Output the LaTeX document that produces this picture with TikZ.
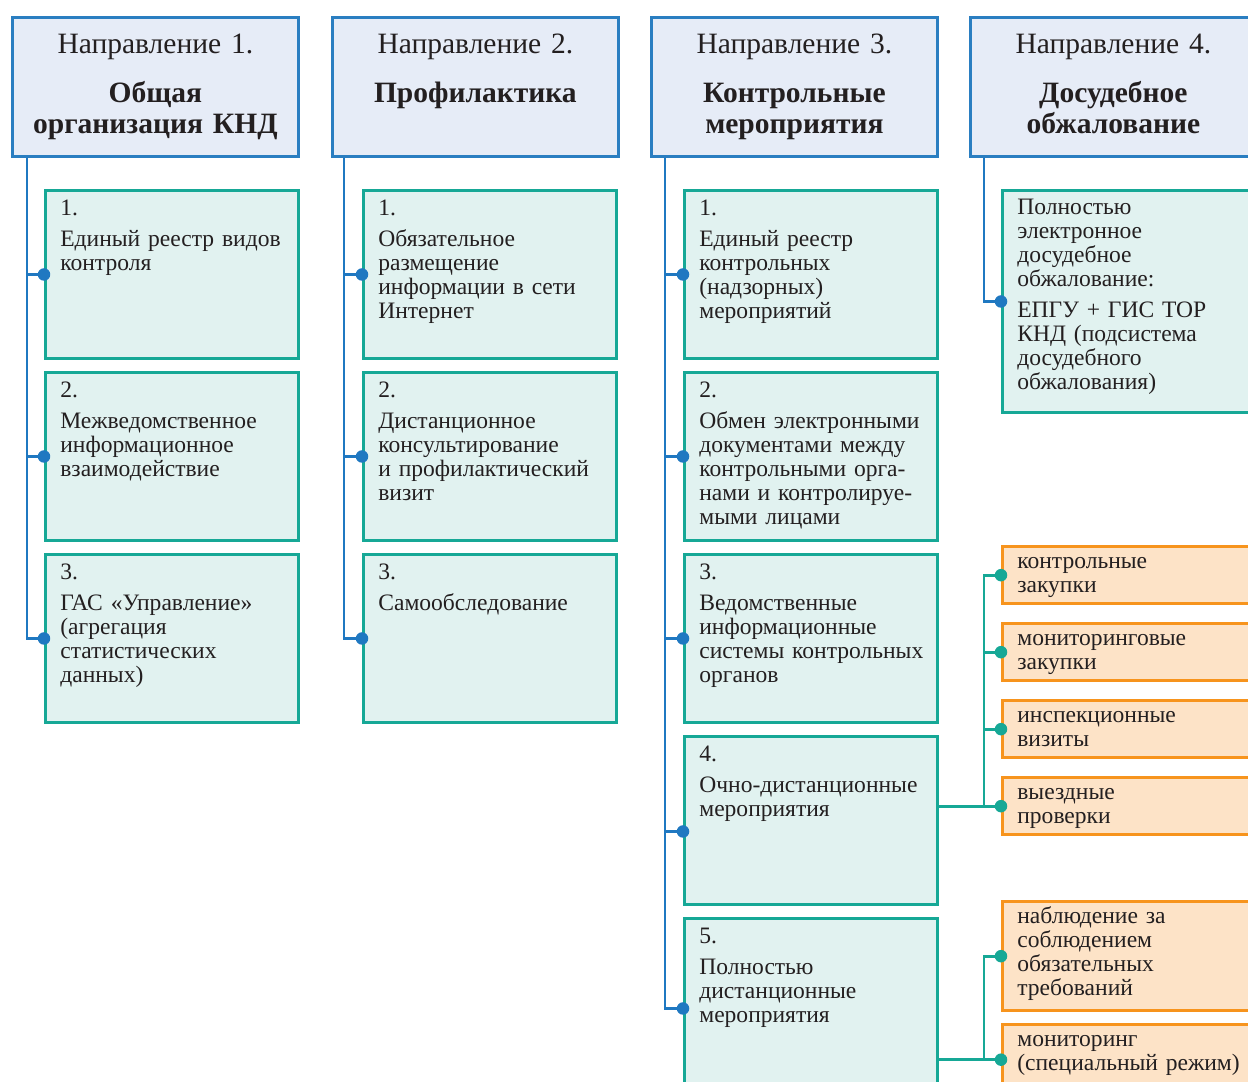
\documentclass[tikz,border=0pt]{standalone}
\usepackage{fontspec}
\setmainfont{Liberation Serif}
\usepackage{tikz}
\usetikzlibrary{positioning,calc}
\usepackage{xcolor}

\definecolor{headfill}{HTML}{E6ECF7}
\definecolor{headline}{HTML}{2A7EC1}
\definecolor{linkblue}{HTML}{1F78C1}
\definecolor{subfill}{HTML}{E1F2F0}
\definecolor{subline}{HTML}{16A896}
\definecolor{optfill}{HTML}{FDE3C7}
\definecolor{optline}{HTML}{F7941D}
\definecolor{ink}{HTML}{231F20}

\tikzset{
  headbox/.style={draw=headline, fill=headfill, line width=1.6pt, inner sep=0pt,
    minimum width=5.72cm, minimum height=2.78cm, anchor=north west},
  headtxt/.style={anchor=base, align=center, text width=5.6cm, inner sep=0pt, text=ink,
    font=\fontsize{16.8}{18.2}\selectfont},
  subbox/.style={draw=subline, fill=subfill, line width=1.7pt, inner sep=0pt,
    minimum width=5.06cm, minimum height=3.36cm, anchor=north west},
  optbox/.style={draw=optline, fill=optfill, line width=1.9pt, inner sep=0pt,
    minimum width=5.06cm, minimum height=1.14cm, anchor=north west},
  boxtxt/.style={anchor=base west, align=left, text width=5.5cm, inner sep=0pt, text=ink,
    font=\fontsize{13.4}{13.66}\selectfont},
  blink/.style={draw=linkblue, line width=1.6pt},
  tlink/.style={draw=subline, line width=1.6pt},
  bdot/.style={circle, fill=linkblue, inner sep=0pt, minimum size=0.25cm},
  tdot/.style={circle, fill=subline, inner sep=0pt, minimum size=0.25cm},
}

\begin{document}
\begin{tikzpicture}[x=0.02cm, y=-0.02cm]
    \useasboundingbox (0,0) rectangle (1248,1082);
    \clip (0,0) rectangle (1248,1082);

    % направления
    \node[headbox] (h1) at (11,16) {};
    \node[headbox] (h2) at (331,16) {};
    \node[headbox] (h3) at (650,16) {};
    \node[headbox] (h4) at (969,16) {};
    \node[headtxt] (h1t) at ([shift={(0,37)}]h1.north) {Направление 1.\\[9.7pt]\bfseries Общая\\организация КНД};
    \node[headtxt] (h2t) at ([shift={(0,37)}]h2.north) {Направление 2.\\[9.7pt]\bfseries Профилактика};
    \node[headtxt] (h3t) at ([shift={(0,37)}]h3.north) {Направление 3.\\[9.7pt]\bfseries Контрольные\\мероприятия};
    \node[headtxt] (h4t) at ([shift={(0,37)}]h4.north) {Направление 4.\\[9.7pt]\bfseries Досудебное\\обжалование};

    % блоки
    \node[subbox] (a1) at (44,189) {};
    \node[subbox] (a2) at (44,371) {};
    \node[subbox] (a3) at (44,553) {};
    \node[subbox] (b1) at (362,189) {};
    \node[subbox] (b2) at (362,371) {};
    \node[subbox] (b3) at (362,553) {};
    \node[subbox] (c1) at (683,189) {};
    \node[subbox] (c2) at (683,371) {};
    \node[subbox] (c3) at (683,553) {};
    \node[subbox] (c4) at (683,735) {};
    \node[subbox, minimum height=3.6cm] (c5) at (683,917) {};
    \node[subbox, minimum height=4.44cm] (d1) at (1001,189) {};

    \node[boxtxt] (a1t) at ([shift={(16,26)}]a1.north west) {1.\\[4.5pt]Единый реестр видов\\контроля};
    \node[boxtxt] (a2t) at ([shift={(16,26)}]a2.north west) {2.\\[4.5pt]Межведомственное\\информационное\\взаимодействие};
    \node[boxtxt] (a3t) at ([shift={(16,26)}]a3.north west) {3.\\[4.5pt]ГАС «Управление»\\(агрегация\\статистических\\данных)};
    \node[boxtxt] (b1t) at ([shift={(16,26)}]b1.north west) {1.\\[4.5pt]Обязательное\\размещение\\информации в сети\\Интернет};
    \node[boxtxt] (b2t) at ([shift={(16,26)}]b2.north west) {2.\\[4.5pt]Дистанционное\\консультирование\\и профилактический\\визит};
    \node[boxtxt] (b3t) at ([shift={(16,26)}]b3.north west) {3.\\[4.5pt]Самообследование};
    \node[boxtxt] (c1t) at ([shift={(16,26)}]c1.north west) {1.\\[4.5pt]Единый реестр\\контрольных\\(надзорных)\\мероприятий};
    \node[boxtxt] (c2t) at ([shift={(16,26)}]c2.north west) {2.\\[4.5pt]Обмен электронными\\документами между\\контрольными орга-\\нами и контролируе-\\мыми лицами};
    \node[boxtxt] (c3t) at ([shift={(16,26)}]c3.north west) {3.\\[4.5pt]Ведомственные\\информационные\\системы контрольных\\органов};
    \node[boxtxt] (c4t) at ([shift={(16,26)}]c4.north west) {4.\\[4.5pt]Очно-дистанционные\\мероприятия};
    \node[boxtxt] (c5t) at ([shift={(16,26)}]c5.north west) {5.\\[4.5pt]Полностью\\дистанционные\\мероприятия};
    \node[boxtxt] (d1t) at ([shift={(16,25)}]d1.north west) {Полностью\\электронное\\досудебное\\обжалование:\\[4.5pt]ЕПГУ + ГИС ТОР\\КНД (подсистема\\досудебного\\обжалования)};

    % формы мероприятий
    \node[optbox] (o1) at (1001,545) {};
    \node[optbox] (o2) at (1001,622) {};
    \node[optbox] (o3) at (1001,699) {};
    \node[optbox] (o4) at (1001,776) {};
    \node[optbox, minimum height=2.18cm] (o5) at (1001,900) {};
    \node[optbox, minimum height=1.4cm] (o6) at (1001,1023) {};
    \node[boxtxt] (o1t) at ([shift={(16,23)}]o1.north west) {контрольные\\закупки};
    \node[boxtxt] (o2t) at ([shift={(16,23)}]o2.north west) {мониторинговые\\закупки};
    \node[boxtxt] (o3t) at ([shift={(16,23)}]o3.north west) {инспекционные\\визиты};
    \node[boxtxt] (o4t) at ([shift={(16,23)}]o4.north west) {выездные\\проверки};
    \node[boxtxt] (o5t) at ([shift={(16,23)}]o5.north west) {наблюдение за\\соблюдением\\обязательных\\требований};
    \node[boxtxt] (o6t) at ([shift={(16,23)}]o6.north west) {мониторинг\\(специальный режим)};

    % связи направлений
    \coordinate (t1) at ([shift={(16,0)}]h1.south west);
    \coordinate (t2) at ([shift={(13,0)}]h2.south west);
    \coordinate (t3) at ([shift={(15,0)}]h3.south west);
    \coordinate (t4) at ([shift={(15,0)}]h4.south west);
    \coordinate (c4p) at ([shift={(0,11)}]c4.west);
    \draw[blink] (t1) |- (a3.west);
    \draw[blink] (t2) |- (b3.west);
    \draw[blink] (t3) |- (c5.west);
    \draw[blink] (t4) |- (d1.west);
    \foreach \b in {a1,a2} \draw[blink] (t1 |- \b.west) -- (\b.west);
    \foreach \b in {b1,b2} \draw[blink] (t2 |- \b.west) -- (\b.west);
    \foreach \b in {c1.west,c2.west,c3.west,c4p} \draw[blink] (t3 |- \b) -- (\b);
    \foreach \b [count=\i] in {a1.west,a2.west,a3.west,b1.west,b2.west,b3.west,c1.west,c2.west,c3.west,c4p,c5.west,d1.west}
        \node[bdot] (bd\i) at (\b) {};

    % связи форм
    \coordinate (u1) at ([shift={(-17,0)}]o1.west);
    \coordinate (u2) at ([shift={(-17,0)}]o5.west);
    \draw[tlink] (c4.east |- o4.west) -- (o4.west);
    \draw[tlink] (o1.west) -- (u1) -- (u1 |- o4.west);
    \foreach \b in {o2,o3} \draw[tlink] (u1 |- \b.west) -- (\b.west);
    \draw[tlink] (c5.east |- o6.west) -- (o6.west);
    \draw[tlink] (o5.west) -- (u2) -- (u2 |- o6.west);
    \foreach \b in {o1,o2,o3,o4,o5,o6} \node[tdot] (\b d) at (\b.west) {};
\end{tikzpicture}
\end{document}
